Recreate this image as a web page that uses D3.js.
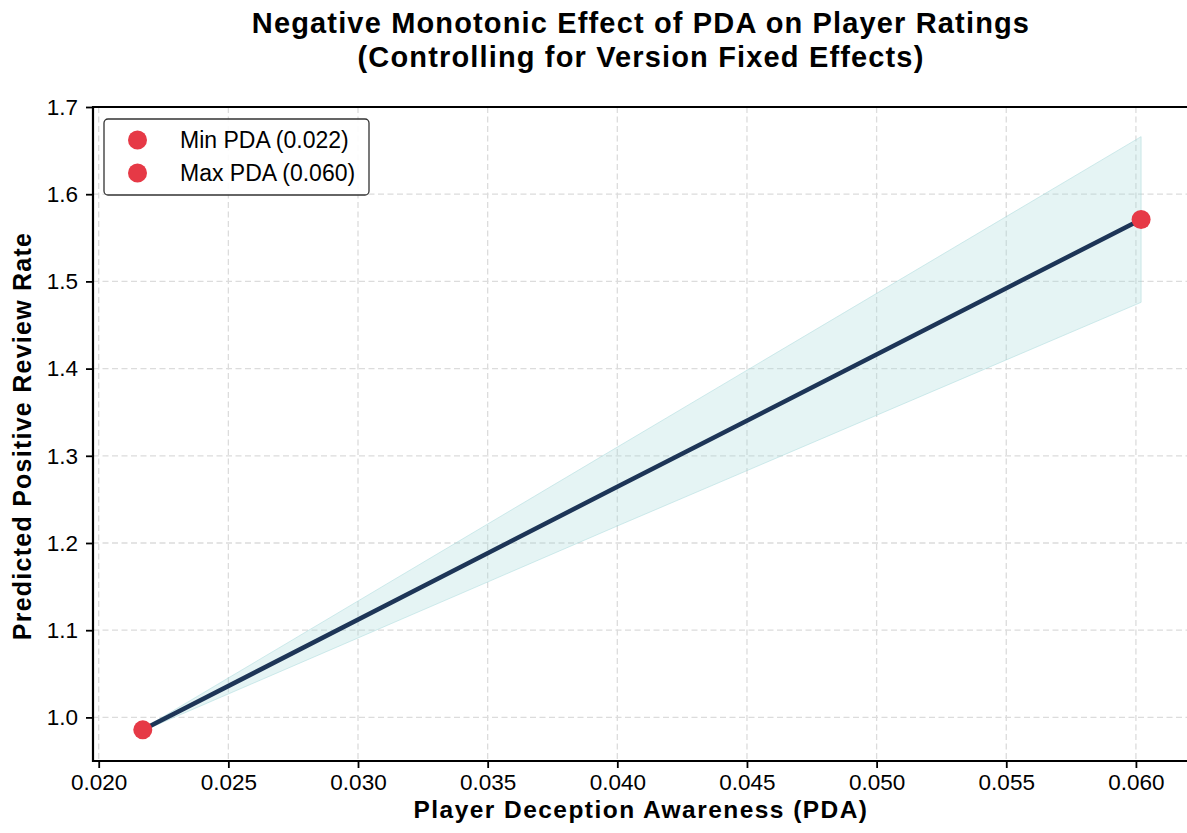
<!DOCTYPE html>
<html>
<head>
<meta charset="utf-8">
<script src="https://cdn.jsdelivr.net/npm/d3@7"></script>
<style>
  html, body { margin: 0; padding: 0; background: #fff; }
  svg { display: block; font-family: "Liberation Sans", Arial, sans-serif; }
</style>
</head>
<body>
<svg id="chart" width="1187" height="833"></svg>
<script>
// ---- data ----
const pdaValues = [0.0217, 0.0400, 0.0602];
const predicted = [0.9857, 1.2645, 1.5710];
const ciLower   = [0.9845, 1.2195, 1.4760];
const ciUpper   = [0.9870, 1.3100, 1.6660];
const highlightLabels = ["Min PDA (0.022)", "Max PDA (0.060)"];
const highlightX = [0.0217, 0.0602];
const highlightY = [0.9857, 1.5710];
const xTicks = [0.020, 0.025, 0.030, 0.035, 0.040, 0.045, 0.050, 0.055, 0.060];
const yTicks = [1.0, 1.1, 1.2, 1.3, 1.4, 1.5, 1.6, 1.7];
const titleLines = ["Negative Monotonic Effect of PDA on Player Ratings", "(Controlling for Version Fixed Effects)"];
const xLabel = "Player Deception Awareness (PDA)";
const yLabel = "Predicted Positive Review Rate";

const svg = d3.select("#chart");
const m = { left: 93, right: 1190, top: 107, bottom: 761 };

const x = d3.scaleLinear().domain([0.01978, 0.06197]).range([m.left, 1187]);
const y = d3.scaleLinear().domain([0.95, 1.7]).range([m.bottom, m.top]);

// grid
const grid = svg.append("g");
grid.selectAll(".gx").data(xTicks).enter().append("line")
  .attr("x1", d => x(d)).attr("x2", d => x(d))
  .attr("y1", m.top).attr("y2", m.bottom)
  .attr("stroke", "#dcdcdc").attr("stroke-width", 1.3).attr("stroke-dasharray", "6,3.5");
grid.selectAll(".gy").data(yTicks).enter().append("line")
  .attr("y1", d => y(d)).attr("y2", d => y(d))
  .attr("x1", m.left).attr("x2", m.right)
  .attr("stroke", "#dcdcdc").attr("stroke-width", 1.3).attr("stroke-dasharray", "6,3.5");

// CI band
const rows = pdaValues.map((v, i) => ({ x: v, yp: predicted[i], lo: ciLower[i], hi: ciUpper[i] }));
const area = d3.area().x(d => x(d.x)).y0(d => y(d.lo)).y1(d => y(d.hi));
svg.append("path").datum(rows).attr("d", area)
  .attr("fill", "#a8dadc").attr("fill-opacity", 0.3)
  .attr("stroke", "#a8dadc").attr("stroke-opacity", 0.5).attr("stroke-width", 1);

// line
const line = d3.line().x(d => x(d.x)).y(d => y(d.yp));
svg.append("path").datum(rows).attr("d", line)
  .attr("fill", "none").attr("stroke", "#1d3557").attr("stroke-width", 4.5);

// points
svg.selectAll(".pt").data(highlightX).enter().append("circle")
  .attr("cx", d => x(d)).attr("cy", (d, i) => y(highlightY[i])).attr("r", 9.5)
  .attr("fill", "#e63946");

// axes
const xAxis = d3.axisBottom(x).tickValues(xTicks).tickFormat(d3.format(".3f")).tickSize(7).tickPadding(6);
const yAxis = d3.axisLeft(y).tickValues(yTicks).tickFormat(d3.format(".1f")).tickSize(7).tickPadding(8);
const gx = svg.append("g").attr("transform", `translate(0,${m.bottom})`).call(xAxis);
const gy = svg.append("g").attr("transform", `translate(${m.left},0)`).call(yAxis);
[gx, gy].forEach(g => {
  g.select(".domain").remove();
  g.selectAll(".tick line").attr("stroke", "#000").attr("stroke-width", 1.8);
  g.selectAll(".tick text").attr("font-size", 22.5).attr("fill", "#000")
    .attr("font-family", "'Liberation Sans', Arial, sans-serif");
});

// spines (left, bottom, top; right spine lies outside the picture)
svg.append("line").attr("x1", m.left).attr("x2", m.left).attr("y1", m.top - 1).attr("y2", m.bottom + 1)
  .attr("stroke", "#000").attr("stroke-width", 2.2);
svg.append("line").attr("x1", m.left - 1).attr("x2", m.right).attr("y1", m.bottom).attr("y2", m.bottom)
  .attr("stroke", "#000").attr("stroke-width", 2.2);
svg.append("line").attr("x1", m.left - 1).attr("x2", m.right).attr("y1", m.top).attr("y2", m.top)
  .attr("stroke", "#000").attr("stroke-width", 2.2);

// title
svg.append("g").selectAll("text").data(titleLines).enter().append("text")
  .attr("x", 641).attr("y", (d, i) => 33 + i * 34)
  .attr("text-anchor", "middle").attr("font-size", 29).attr("font-weight", "bold")
  .attr("letter-spacing", "1.15px")
  .text(d => d);

// axis labels
svg.append("text").attr("x", 641).attr("y", 818).attr("text-anchor", "middle")
  .attr("font-size", 24.5).attr("font-weight", "bold").attr("letter-spacing", "1.45px").text(xLabel);
svg.append("text").attr("transform", "translate(31,436) rotate(-90)").attr("text-anchor", "middle")
  .attr("font-size", 25).attr("font-weight", "bold").attr("letter-spacing", "1.25px").text(yLabel);

// legend
const lg = svg.append("g");
lg.append("rect").attr("x", 104).attr("y", 119).attr("width", 265).attr("height", 76)
  .attr("rx", 4).attr("fill", "#fff").attr("fill-opacity", 0.9)
  .attr("stroke", "#333").attr("stroke-width", 1.3);
const items = lg.selectAll(".li").data(highlightLabels).enter().append("g")
  .attr("transform", (d, i) => `translate(0,${140 + i * 33})`);
items.append("circle").attr("cx", 137.5).attr("cy", 0).attr("r", 9.5).attr("fill", "#e63946");
items.append("text").attr("x", 180).attr("y", 0).attr("dy", "0.35em")
  .attr("font-size", 23).text(d => d);
</script>
</body>
</html>
